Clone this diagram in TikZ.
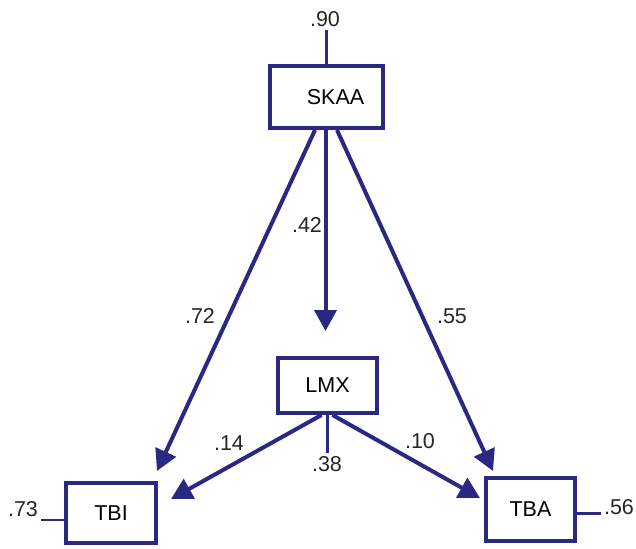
\documentclass[tikz,border=0pt]{standalone}
\usepackage{fontspec}
\setmainfont{Liberation Sans}
\usetikzlibrary{arrows.meta}
\definecolor{navy}{RGB}{42,40,128}
\begin{document}
\begin{tikzpicture}[x=1pt,y=-1pt,
  font=\fontsize{21.5}{25}\selectfont,
  var/.style={draw=navy,line width=4pt,inner sep=0pt,fill=white},
  path/.style={draw=navy,line width=4pt,-{Triangle[length=21pt,width=22pt]}},
  err/.style={draw=navy,line width=2.2pt},
  coef/.style={inner sep=3pt,text=black!85}]
\useasboundingbox (0,0) rectangle (636,548);

% observed variables
\node[var,minimum width=113pt,minimum height=62pt] (SKAA) at (326.5,97) {\hspace{18pt}SKAA};
\node[var,minimum width=99pt,minimum height=55pt]  (LMX)  at (327.5,385.5) {LMX};
\node[var,minimum width=90pt,minimum height=60pt]  (TBI)  at (111,513) {TBI};
\node[var,minimum width=89pt,minimum height=63pt]  (TBA)  at (530.5,509.5) {TBA};

% explained variance
\node[coef] (e90) at (325,19) {.90};
\node[coef] (e38) at (327,464) {.38};
\node[coef] (e73) at (23,509) {.73};
\node[coef] (e56) at (619,507.5) {.56};

\draw[err] (SKAA.north) -- (SKAA.north |- e90.south);
\draw[err] (LMX.south) -- (LMX.south |- e38.north);
\draw[err] (TBI.west |- e73.south east) -- (e73.south east);
\draw[err] ([yshift=-4pt]TBA.east) -- ([yshift=-4pt]TBA.east -| e56.west);

% structural paths
\draw[path] ([xshift=-11.5pt]SKAA.south) -- ([xshift=-1pt,yshift=10pt]TBI.north east);
\draw[path] ([xshift=-1pt]SKAA.south) -- ([xshift=-2pt,yshift=25pt]LMX.north);
\draw[path] ([xshift=10.5pt]SKAA.south) -- ([xshift=9pt,yshift=5pt]TBA.north west);
\draw[path] ([xshift=-6pt]LMX.south) -- ([xshift=13pt,yshift=14pt]TBI.east);
\draw[path] ([xshift=5pt]LMX.south) -- ([xshift=-4pt,yshift=11.5pt]TBA.west);

% path coefficients
\node[coef] (c42) at (307,225) {.42};
\node[coef] (c72) at (200,316) {.72};
\node[coef] (c55) at (452,316) {.55};
\node[coef] (c14) at (229,443) {.14};
\node[coef] (c10) at (420,441) {.10};
\end{tikzpicture}
\end{document}
